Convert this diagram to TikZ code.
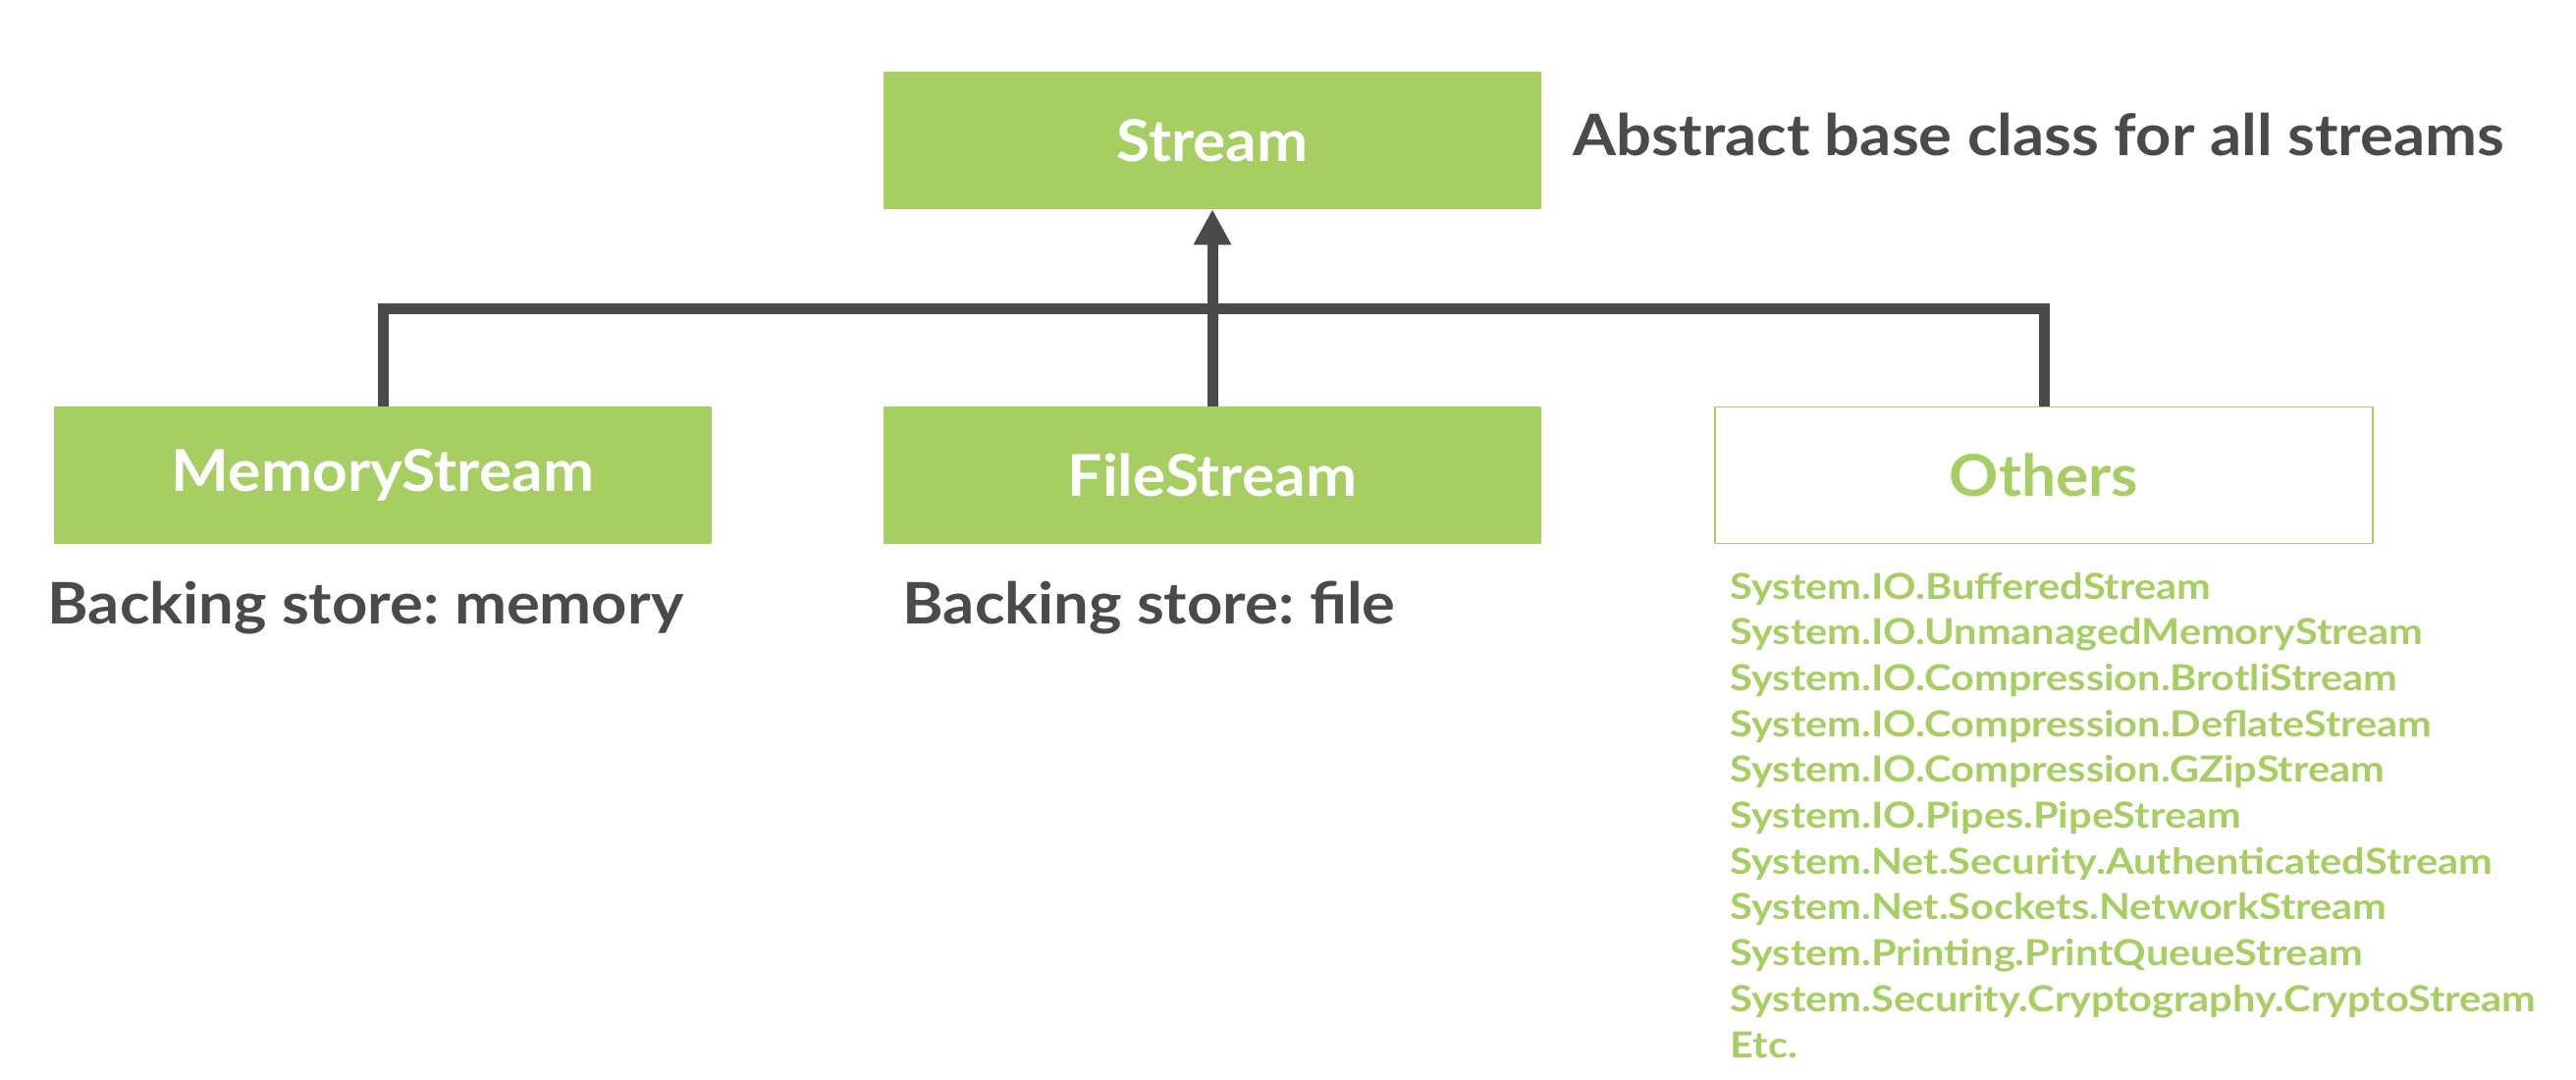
\documentclass[tikz,border=0pt]{standalone}
\usepackage{fontspec}
\setmainfont{Lato}
\newfontfamily\boxfont{Lato}[FakeStretch=1.06]
\newfontfamily\notefont{Lato}[FakeStretch=1.085]
\newfontfamily\itemfont{Lato}[FakeStretch=1.135]
\frenchspacing
\usetikzlibrary{arrows.meta}
\definecolor{psgreen}{HTML}{A6CE62}
\definecolor{psgray}{HTML}{4A4A4A}
\begin{document}
\begin{tikzpicture}[x=0.01cm,y=-0.01cm,
 box/.style={rectangle, fill=psgreen, minimum width=6.69cm, minimum height=1.39cm, inner sep=0pt, text=white, font=\boxfont\fontsize{16.7}{20}\selectfont\bfseries},
 obox/.style={box, fill=white, draw=psgreen, line width=0.5pt, text=psgreen},
 note/.style={anchor=base west, inner sep=0pt, text=psgray, font=\notefont\fontsize{16.6}{20}\selectfont\bfseries\frenchspacing},
 item/.style={anchor=base west, inner sep=0pt, text=psgreen, font=\itemfont\fontsize{10.4}{12}\selectfont\bfseries},
 conn/.style={draw=psgray, line width=0.11cm}]
\useasboundingbox (0,0) rectangle (2624,1100);
\node[box] (st) at (1235,143) {Stream};
\node[box] (ms) at (390,484) {MemoryStream};
\node[box] (fs) at (1235,484) {FileStream};
\node[obox] (os) at (2082,484) {Others};
\coordinate (bar) at (1235,314);
\draw[conn] (ms.north) -- (ms.north |- bar) -- (os.north |- bar) -- (os.north);
\draw[conn, -{Triangle[width=0.36cm,length=0.36cm]}] (fs.north) -- (st.south);
\node[note] (n1) at (1602,158) {Abstract base class for all streams};
\node[note] (n2) at (48,635) {Backing store: memory};
\node[note] (n3) at (919,635) {Backing store: file};
\foreach \t [count=\i] in {System.IO.BufferedStream, System.IO.UnmanagedMemoryStream, System.IO.Compression.BrotliStream, System.IO.Compression.DeflateStream, System.IO.Compression.GZipStream, System.IO.Pipes.PipeStream, System.Net.Security.AuthenticatedStream, System.Net.Sockets.NetworkStream, System.Printing.PrintQueueStream, System.Security.Cryptography.CryptoStream, Etc.}
  \node[item] (l\i) at (1762,{610+46.7*(\i-1)}) {\t};
\end{tikzpicture}
\end{document}
